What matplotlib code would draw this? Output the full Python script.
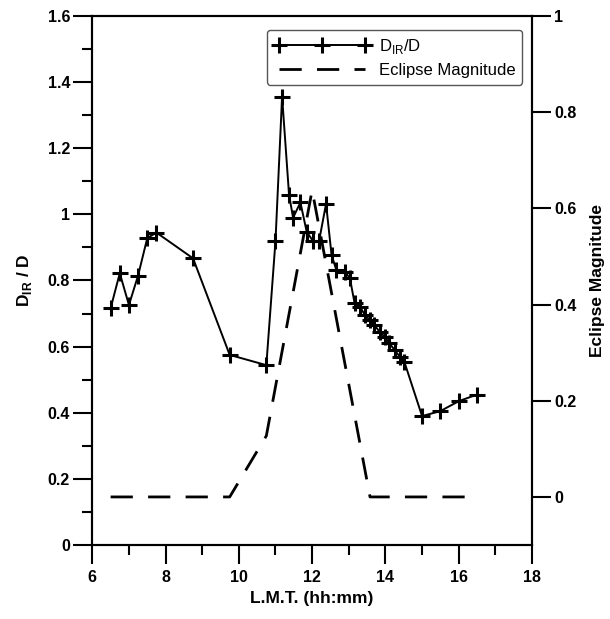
import matplotlib
matplotlib.use("Agg")
import matplotlib.pyplot as plt
from matplotlib.ticker import MultipleLocator, FormatStrFormatter

plt.rcParams["font.family"] = ["Liberation Sans", "DejaVu Sans"]
plt.rcParams["mathtext.fontset"] = "custom"
plt.rcParams["mathtext.rm"] = "Liberation Sans"
plt.rcParams["mathtext.bf"] = "Liberation Sans:bold"

# D_IR/D measurements (local mean time, hours)
lmt_hours = [6.5, 6.75, 7.0, 7.25, 7.5, 7.75, 8.75, 9.75, 10.75, 11.0,
             11.18, 11.37, 11.48, 11.68, 11.85, 12.03, 12.19, 12.38, 12.53,
             12.66, 12.89, 13.03, 13.16, 13.3, 13.44, 13.57, 13.7, 13.84,
             13.98, 14.11, 14.25, 14.39, 14.52, 15.0, 15.5, 16.0, 16.5]
dir_ratio = [0.716, 0.822, 0.726, 0.815, 0.928, 0.945, 0.867, 0.575, 0.544, 0.92,
             1.356, 1.059, 0.99, 1.036, 0.948, 0.918, 0.92, 1.032, 0.877,
             0.832, 0.827, 0.807, 0.731, 0.721, 0.696, 0.681, 0.665, 0.645,
             0.63, 0.61, 0.59, 0.57, 0.553, 0.39, 0.405, 0.435, 0.455]

# eclipse magnitude
ecl_hours = [6.5, 9.75, 10.75, 12.0, 13.58, 16.5]
ecl_mag = [0.0, 0.0, 0.127, 0.638, 0.0, 0.0]

fig = plt.figure(figsize=(6.10, 6.19), dpi=100)
ax = fig.add_axes([0.1513, 0.1195, 0.7208, 0.8547])
ax2 = ax.twinx()

l1, = ax.plot(lmt_hours, dir_ratio, color="black", lw=1.4, marker="+",
              markersize=11, markeredgewidth=2.2, label=r"D$_{\mathrm{IR}}$/D")
l2, = ax2.plot(ecl_hours, ecl_mag, color="black", lw=2.0, dashes=(8, 5.5),
               label="Eclipse Magnitude")

ax.set_xlim(6, 18)
ax.set_ylim(0, 1.6)
ax2.set_ylim(-0.1, 1.0)

ax.xaxis.set_major_locator(MultipleLocator(2))
ax.xaxis.set_minor_locator(MultipleLocator(1))
ax.yaxis.set_major_locator(MultipleLocator(0.2))
ax.yaxis.set_minor_locator(MultipleLocator(0.1))
ax.yaxis.set_major_formatter(FormatStrFormatter("%g"))
ax2.set_yticks([0, 0.2, 0.4, 0.6, 0.8, 1.0])
ax2.yaxis.set_major_formatter(FormatStrFormatter("%g"))

for a in (ax, ax2):
    for sp in a.spines.values():
        sp.set_linewidth(1.5)
    a.tick_params(which="major", direction="out", length=14, width=1.5,
                  labelsize=11.5, pad=2)
    a.tick_params(which="minor", direction="out", length=7, width=1.5)
    for lbl in a.get_xticklabels() + a.get_yticklabels():
        lbl.set_fontweight("bold")
ax.tick_params(axis="x", pad=4)

ax.set_xlabel("L.M.T. (hh:mm)", fontsize=12.5, fontweight="bold", labelpad=4)
ax.set_ylabel(r"D$_{\mathbf{IR}}$ / D", fontsize=12.5, fontweight="bold", labelpad=10)
ax2.set_ylabel("Eclipse Magnitude", fontsize=12.5, fontweight="bold", labelpad=10)

leg = ax2.legend([l1, l2], [l1.get_label(), l2.get_label()], loc="upper right",
                 bbox_to_anchor=(0.977, 0.9735), borderaxespad=0, numpoints=3,
                 handlelength=5.8, fontsize=12, fancybox=True, framealpha=1,
                 edgecolor="#555555", handletextpad=0.5, borderpad=0.4,
                 labelspacing=0.45)
leg.get_frame().set_linewidth(1.0)

fig.savefig("out.png", dpi=100)
